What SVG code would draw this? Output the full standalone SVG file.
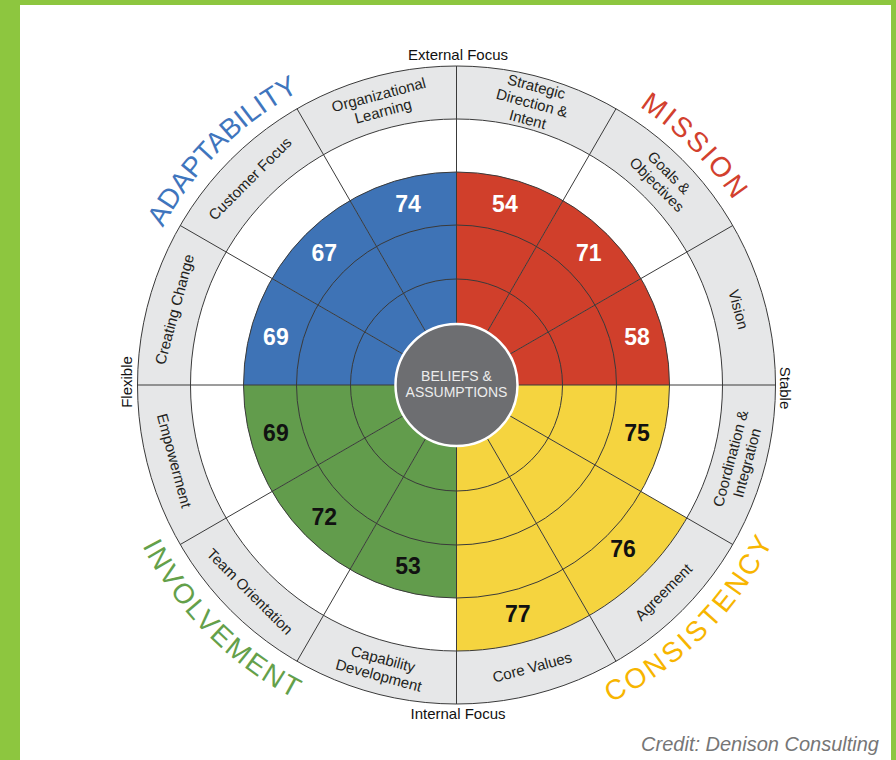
<svg xmlns="http://www.w3.org/2000/svg" width="896" height="760" viewBox="0 0 896 760">
<style>
.lbl{font-family:"Liberation Sans",Arial,sans-serif;font-size:15px;fill:#231f20;text-anchor:middle}
.num{font-family:"Liberation Sans",Arial,sans-serif;font-size:23px;font-weight:bold;text-anchor:middle}
.nw{fill:#ffffff}
.nk{fill:#111111}
.ln{stroke:#3a3a3a;stroke-width:1;fill:none}
.ttl{font-family:"Liberation Sans",Arial,sans-serif;font-size:28px;text-anchor:middle}
.ax{font-family:"Liberation Sans",Arial,sans-serif;font-size:15px;fill:#111;text-anchor:middle}
.blue{fill:#3e73b6}.red{fill:#d03f2b}.yel{fill:#f5d43f}.grn{fill:#629c4c}
</style>
<defs>
<path id="pA" d="M-333,0 A333,333 0 0 1 0,-333"/>
<path id="pM" d="M0,-333 A333,333 0 0 1 333,0"/>
<path id="pC" d="M0,353 A353,353 0 0 0 353,0"/>
<path id="pI" d="M-353,0 A353,353 0 0 0 0,353"/>
</defs>
<rect width="896" height="760" fill="#ffffff"/>
<rect x="0" y="0" width="896" height="5" fill="#8dc63f"/>
<rect x="0" y="0" width="20" height="760" fill="#8dc63f"/>
<rect x="891" y="0" width="5" height="760" fill="#8dc63f"/>

<g transform="translate(456.5,385)">
<circle r="292.5" fill="none" stroke="#e6e7e8" stroke-width="53"/>

<g id="strategic-direction">
<path class="red" d="M0,0 L0,-213 A213,213 0 0 1 106.5,-184.46 Z"/>
<text class="num nw" x="48.4" y="-172.6">54</text>
<text class="lbl" transform="translate(75.6,-282.1) rotate(15)"><tspan x="0" y="-11.7">Strategic</tspan><tspan x="0" y="5.3">Direction &amp;</tspan><tspan x="0" y="22.3">Intent</tspan></text>
</g>
<g id="goals-objectives">
<path class="red" d="M0,0 L106.5,-184.46 A213,213 0 0 1 184.46,-106.5 Z"/>
<text class="num nw" x="132.2" y="-124.2">71</text>
<text class="lbl" transform="translate(206.5,-206.5) rotate(45)"><tspan x="0" y="-3.2">Goals &amp;</tspan><tspan x="0" y="13.8">Objectives</tspan></text>
</g>
<g id="vision">
<path class="red" d="M0,0 L184.46,-106.5 A213,213 0 0 1 213,0 Z"/>
<text class="num nw" x="180.6" y="-40.4">58</text>
<text class="lbl" transform="translate(282.1,-75.6) rotate(75)"><tspan x="0" y="5.3">Vision</tspan></text>
</g>
<g id="coordination-integration">
<path class="yel" d="M0,0 L213,0 A213,213 0 0 1 184.46,106.5 Z"/>
<text class="num nk" x="180.6" y="56.4">75</text>
<text class="lbl" transform="translate(282.1,75.6) rotate(-75)"><tspan x="0" y="-3.2">Coordination &amp;</tspan><tspan x="0" y="13.8">Integration</tspan></text>
</g>
<g id="agreement">
<path class="yel" d="M0,0 L230.36,133 A266,266 0 0 1 133,230.36 Z"/>
<text class="num nk" x="166.5" y="172">76</text>
<text class="lbl" transform="translate(207,207) rotate(-45)"><tspan x="0" y="5.3">Agreement</tspan></text>
</g>
<g id="core-values">
<path class="yel" d="M0,0 L133,230.36 A266,266 0 0 1 0,266 Z"/>
<text class="num nk" x="61.3" y="236.9">77</text>
<text class="lbl" transform="translate(75.6,282.1) rotate(-15)"><tspan x="0" y="5.3">Core Values</tspan></text>
</g>
<g id="capability-development">
<path class="grn" d="M0,0 L0,213 A213,213 0 0 1 -106.5,184.46 Z"/>
<text class="num nk" x="-48.4" y="188.6">53</text>
<text class="lbl" transform="translate(-75.6,282.1) rotate(15)"><tspan x="0" y="-3.2">Capability</tspan><tspan x="0" y="13.8">Development</tspan></text>
</g>
<g id="team-orientation">
<path class="grn" d="M0,0 L-106.5,184.46 A213,213 0 0 1 -184.46,106.5 Z"/>
<text class="num nk" x="-132.2" y="140.2">72</text>
<text class="lbl" transform="translate(-206.5,206.5) rotate(45)"><tspan x="0" y="5.3">Team Orientation</tspan></text>
</g>
<g id="empowerment">
<path class="grn" d="M0,0 L-184.46,106.5 A213,213 0 0 1 -213,0 Z"/>
<text class="num nk" x="-180.6" y="56.4">69</text>
<text class="lbl" transform="translate(-282.1,75.6) rotate(75)"><tspan x="0" y="5.3">Empowerment</tspan></text>
</g>
<g id="creating-change">
<path class="blue" d="M0,0 L-213,0 A213,213 0 0 1 -184.46,-106.5 Z"/>
<text class="num nw" x="-180.6" y="-40.4">69</text>
<text class="lbl" transform="translate(-282.1,-75.6) rotate(-75)"><tspan x="0" y="5.3">Creating Change</tspan></text>
</g>
<g id="customer-focus">
<path class="blue" d="M0,0 L-184.46,-106.5 A213,213 0 0 1 -106.5,-184.46 Z"/>
<text class="num nw" x="-132.2" y="-124.2">67</text>
<text class="lbl" transform="translate(-206.5,-206.5) rotate(-45)"><tspan x="0" y="5.3">Customer Focus</tspan></text>
</g>
<g id="organizational-learning">
<path class="blue" d="M0,0 L-106.5,-184.46 A213,213 0 0 1 0,-213 Z"/>
<text class="num nw" x="-48.4" y="-172.6">74</text>
<text class="lbl" transform="translate(-75.6,-282.1) rotate(-15)"><tspan x="0" y="-3.2">Organizational</tspan><tspan x="0" y="13.8">Learning</tspan></text>
</g>

<g id="connectors">
<circle class="ln" r="106"/>
<circle class="ln" r="160"/>
<circle class="ln" r="213"/>
<circle class="ln" r="266"/>
<circle class="ln" r="319"/>
<line class="ln" x1="-319" y1="0" x2="319" y2="0"/>
<line class="ln" x1="0" y1="-319" x2="0" y2="319"/>
<line class="ln" x1="159.5" y1="-276.26" x2="-159.5" y2="276.26"/>
<line class="ln" x1="276.26" y1="-159.5" x2="-276.26" y2="159.5"/>
<line class="ln" x1="276.26" y1="159.5" x2="-276.26" y2="-159.5"/>
<line class="ln" x1="159.5" y1="276.26" x2="-159.5" y2="-276.26"/>
</g>

<g id="beliefs-assumptions">
<circle r="61" fill="#6d6e71" stroke="#ffffff" stroke-width="2.5"/>
<text font-family="Liberation Sans, Arial, sans-serif" font-size="14" fill="#ececec" text-anchor="middle"><tspan x="0" y="-4">BELIEFS &amp;</tspan><tspan x="0" y="11.5">ASSUMPTIONS</tspan></text>
</g>

<g id="quadrant-titles">
<text class="ttl" fill="#3f75bd"><textPath href="#pA" startOffset="50%">ADAPTABILITY</textPath></text>
<text class="ttl" fill="#d2402e" letter-spacing="2.5"><textPath href="#pM" startOffset="50%">MISSION</textPath></text>
<text class="ttl" fill="#f7b500" letter-spacing="3"><textPath href="#pC" startOffset="50%">CONSISTENCY</textPath></text>
<text class="ttl" fill="#64a04a" letter-spacing="2"><textPath href="#pI" startOffset="50%">INVOLVEMENT</textPath></text>
</g>
</g>

<text class="ax" x="458" y="60">External Focus</text>
<text class="ax" x="458" y="719">Internal Focus</text>
<text class="ax" transform="translate(132,382) rotate(-90)">Flexible</text>
<text class="ax" transform="translate(780,388) rotate(90)">Stable</text>
<text x="879" y="751" font-family="Liberation Sans, Arial, sans-serif" font-size="20" font-style="italic" fill="#767676" text-anchor="end">Credit: Denison Consulting</text>
</svg>
